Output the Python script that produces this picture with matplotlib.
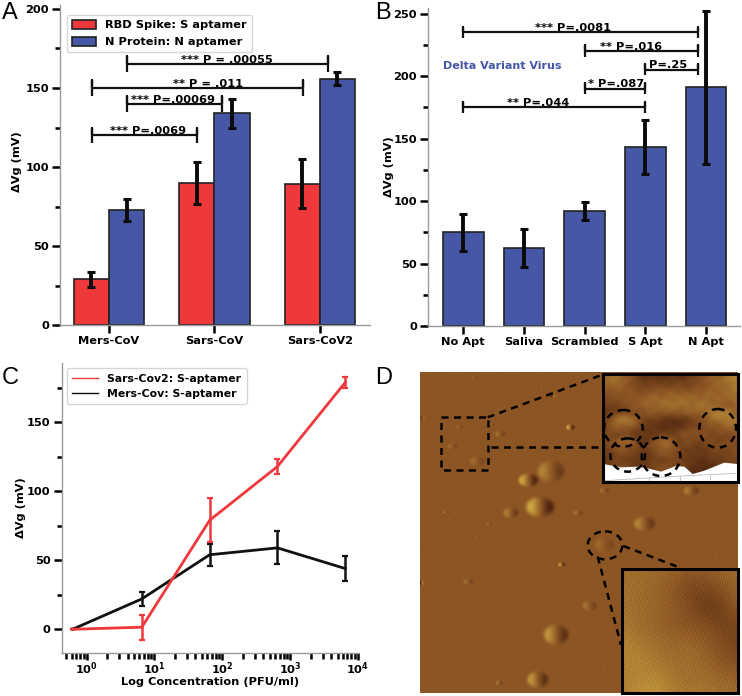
import matplotlib
matplotlib.use("Agg")
import matplotlib.pyplot as plt
import numpy as np
from matplotlib.colors import LinearSegmentedColormap
from matplotlib.lines import Line2D
from matplotlib.patches import Ellipse, Polygon, Rectangle
from matplotlib.ticker import LogLocator, MultipleLocator, NullFormatter

FIG_W, FIG_H = 742, 696
RED = "#EE383C"
BLUE = "#4557A5"
SPINE = "#9a9a9a"

# panel A
a_groups = ["Mers-CoV", "Sars-CoV", "Sars-CoV2"]
a_spike = [29, 90, 89.5]
a_spike_err = [4.5, 13.5, 15.5]
a_nprot = [73, 134, 156]
a_nprot_err = [7, 9, 4]
a_pvals = ["*** P=.0069", "*** P=.00069", "** P = .011", "*** P = .00055"]
a_from = [-0.164, 0.174, -0.164, 0.174]
a_to = [0.836, 1.068, 1.836, 2.073]
a_level = [120, 140, 150, 165]
a_text_x = [0.37, 0.61, 0.94, 1.115]

# panel B
b_groups = ["No Apt", "Saliva", "Scrambled", "S Apt", "N Apt"]
b_values = [75, 62.5, 92, 143, 191]
b_err = [15, 15.5, 7.5, 21.5, 61]
b_pvals = ["*** P=.0081", "** P=.016", "P=.25", "* P=.087", "** P=.044"]
b_from = [0, 2, 3, 2, 0]
b_to = [3.87, 3.87, 3.87, 3, 3]
b_level = [235, 220, 205, 190, 175]
b_text_x = [1.81, 2.77, 3.38, 2.52, 1.23]

# panel C
c_conc = [0.62, 6.5, 65, 650, 6500]
c_sars = [0, 1.5, 79, 118, 179]
c_sars_err = [0, 9, 16, 5.5, 4]
c_mers = [0, 22, 54, 59, 44]
c_mers_err = [0, 5, 8, 12, 9]

# panel D, surface features
part_x = [540, 472, 507, 420, 820, 700, 598, 388, 320, 245, 265, 620, 700, 960, 555, 500,
          655, 572, 292, 385, 545, 225, 355, 318, 155, 152, 515, 310, 705, 705, 1040, 362]
part_y = [365, 392, 472, 490, 522, 585, 233, 253, 335, 290, 232, 490, 423, 423, 855, 990,
          768, 645, 696, 1000, 140, 488, 523, 565, 205, 700, 110, 85, 945, 655, 610, 225]
part_rx = [38, 28, 40, 22, 30, 28, 12, 15, 22, 14, 10, 14, 14, 22, 35, 30,
           20, 10, 14, 10, 8, 10, 8, 6, 6, 5, 6, 8, 6, 8, 5, 8]
part_ry = [32, 20, 30, 16, 22, 22, 9, 10, 14, 9, 8, 9, 10, 15, 30, 25,
           14, 7, 10, 8, 6, 4, 5, 4, 9, 10, 6, 5, 6, 6, 4, 8]
part_amp = [0.55, 0.95, 1.0, 0.5, 0.55, 0.25, 1.0, 0.35, 0.3, 0.25, 0.2, 0.35, 0.3, 0.45, 0.75, 0.75,
            0.4, 0.9, 0.3, 0.4, -0.6, 0.4, 0.3, 0.3, -0.4, -0.8, 0.2, 0.2, 0.15, 0.15, 0.2, 0.2]

top_inset = [
    [0.2, 0.4, 0.1, -0.5, -0.6, -0.6, -0.6, -0.5, -0.1, 0.1, 0.3, 0.6],
    [0.1, 0.1, 0.0, -0.3, -0.2, -0.2, -0.2, -0.2, -0.1, 0.1, 0.2, 0.4],
    [-0.2, -0.1, 0.0, 0.1, 0.2, 0.2, 0.3, 0.2, 0.2, 0.2, 0.1, 0.3],
    [-0.5, -0.4, -0.2, 0.0, 0.1, 0.2, 0.2, 0.2, 0.3, 0.1, -0.1, 0.1],
    [-0.5, -0.2, -0.1, -0.4, -0.4, -0.7, -0.8, -0.5, -0.2, -0.3, 0.0, 0.1],
    [-0.1, -0.1, -0.2, -0.4, -0.5, -0.4, -0.2, 0.0, -0.1, -0.1, -0.1, 0.0],
    [-0.3, -0.3, -0.4, -0.5, -0.6, -0.3, -0.3, -0.3, -0.4, -0.2, -0.2, -0.1],
    [-0.5, -0.2, -0.2, -0.5, -0.3, -0.1, -0.2, -0.4, -0.5, -0.4, -0.3, -0.2],
    [-0.5, -0.2, -0.2, -0.5, -0.2, -0.1, -0.2, -0.5, -0.7, -0.6, -0.5, -0.5],
    [-0.5, -0.3, -0.3, -0.5, -0.4, -0.4, -0.5, -0.8, -1.0, -0.8, -0.6, -0.6],
]
dome_x = [757, 765, 870, 1050]
dome_y = [228, 298, 300, 222]
dome_rx = [55, 42, 45, 50]
dome_ry = [34, 38, 40, 45]
dome_amp = [0.7, 0.7, 0.8, 0.7]
low_inset = [
    [0.25, 0.25, 0.25, 0.15, 0.05, 0.05, 0.15, 0.25],
    [0.3, 0.25, 0.15, 0.05, -0.2, -0.2, -0.05, 0.15],
    [0.3, 0.25, 0.15, 0.05, -0.15, -0.4, -0.3, 0.05],
    [0.35, 0.25, 0.15, 0.05, -0.05, -0.15, -0.3, -0.2],
    [0.5, 0.35, 0.25, 0.15, 0.15, 0.05, -0.15, -0.3],
    [0.5, 0.5, 0.35, 0.25, 0.25, 0.15, -0.05, -0.15],
    [0.45, 0.5, 0.5, 0.35, 0.25, 0.25, 0.15, 0.05],
    [0.45, 0.6, 0.7, 0.45, 0.35, 0.35, 0.25, 0.25],
]
white_edge_x = [697, 750, 800, 830, 870, 915, 940, 965, 1000, 1060, 1100]
white_edge_y = [342, 352, 350, 355, 365, 348, 350, 372, 362, 338, 342]

plt.rcParams["font.family"] = "DejaVu Sans"
plt.rcParams["font.weight"] = "bold"
plt.rcParams["axes.labelweight"] = "bold"
plt.rcParams["font.size"] = 8.2

fig = plt.figure(figsize=(FIG_W / 100, FIG_H / 100), dpi=100)


def px_axes(left, top, right, bottom):
    return fig.add_axes([left / FIG_W, 1 - bottom / FIG_H, (right - left) / FIG_W, (bottom - top) / FIG_H])


def style_axes(ax):
    for side in ["top", "right"]:
        ax.spines[side].set_visible(False)
    for side in ["left", "bottom"]:
        ax.spines[side].set_color(SPINE)
        ax.spines[side].set_linewidth(1)
    ax.tick_params(axis="both", which="major", length=6, width=1.8, pad=2)
    ax.tick_params(axis="both", which="minor", length=3.5, width=1.8)


def bracket(ax, x0, x1, y, cap, label, text_x):
    ax.plot([x0, x0, x0, x1, x1, x1], [y - cap, y + cap, y, y, y + cap, y - cap],
            color="#111111", lw=1.6, solid_capstyle="butt", zorder=5)
    ax.text(text_x, y - cap * 0.1, label, ha="center", va="bottom", fontsize=8.2, zorder=6)


def panel_letter(x, y, letter):
    fig.text(x / FIG_W, 1 - y / FIG_H, letter, family="Liberation Sans", fontweight="normal",
             fontsize=17, ha="left", va="center")


def upsample(grid, xs, ys):
    # bilinear resize of a coarse grid, then a short box blur to hide the cells
    grid = np.array(grid)
    u = np.linspace(0, grid.shape[1] - 1, len(xs))
    v = np.linspace(0, grid.shape[0] - 1, len(ys))
    out = np.array([np.interp(u, np.arange(grid.shape[1]), row) for row in grid])
    out = np.array([np.interp(v, np.arange(grid.shape[0]), col) for col in out.T]).T
    pad = 8
    box = np.ones(2 * pad + 1) / (2 * pad + 1)
    out = np.pad(out, pad, mode="edge")
    out = np.apply_along_axis(lambda r: np.convolve(r, box, mode="same"), 1, out)
    out = np.apply_along_axis(lambda c: np.convolve(c, box, mode="same"), 0, out)
    return out[pad:-pad, pad:-pad]


def grain(xg, yg):
    return (np.sin(0.8 * xg + 0.5 * yg + 2 * np.sin(0.13 * yg))
            + np.sin(0.5 * xg - 0.8 * yg + 2 * np.sin(0.11 * xg))
            + np.sin(0.9 * xg - 0.1 * yg + 2 * np.sin(0.17 * yg + 0.07 * xg))) / 3


err_style = dict(ecolor="#0a0a0a", elinewidth=2.8, capsize=2.8, capthick=2.2)

# --- A ---
ax = px_axes(60, 5, 370, 325.3)
width = 1 / 3
pos = np.arange(len(a_groups))
ax.bar(pos - width / 2, a_spike, width, yerr=a_spike_err, color=RED, edgecolor="#222222", lw=1.2,
       error_kw=err_style, label="RBD Spike: S aptamer")
ax.bar(pos + width / 2, a_nprot, width, yerr=a_nprot_err, color=BLUE, edgecolor="#222222", lw=1.2,
       error_kw=err_style, label="N Protein: N aptamer")
ax.set_xlim(-0.465, 2.475)
ax.set_ylim(0, 202.5)
ax.set_xticks(pos, a_groups)
ax.yaxis.set_major_locator(MultipleLocator(50))
ax.yaxis.set_minor_locator(MultipleLocator(25))
ax.set_ylabel("ΔVg (mV)")
ax.yaxis.set_label_coords(-0.122, 0.51)
style_axes(ax)
ax.legend(loc="upper left", bbox_to_anchor=(0.022, 0.97), borderaxespad=0, fontsize=8.2,
          handlelength=2.1, handleheight=0.9, labelspacing=0.55, borderpad=0.45)
for x0, x1, lev, lab, tx in zip(a_from, a_to, a_level, a_pvals, a_text_x):
    bracket(ax, x0, x1, lev, 5, lab, tx)

# --- B ---
ax = px_axes(428, 8, 740, 326)
pos = np.arange(len(b_groups))
ax.bar(pos, b_values, 0.67, yerr=b_err, color=BLUE, edgecolor="#222222", lw=1.2, error_kw=err_style)
ax.set_xlim(-0.58, 4.56)
ax.set_ylim(0, 254.5)
ax.set_xticks(pos, b_groups)
ax.yaxis.set_major_locator(MultipleLocator(50))
ax.yaxis.set_minor_locator(MultipleLocator(25))
ax.set_ylabel("ΔVg (mV)")
ax.yaxis.set_label_coords(-0.109, 0.5)
style_axes(ax)
for x0, x1, lev, lab, tx in zip(b_from, b_to, b_level, b_pvals, b_text_x):
    bracket(ax, x0, x1, lev, 4.5, lab, tx)
ax.text(-0.33, 208, "Delta Variant Virus", color=BLUE, va="center", fontsize=8)

# --- C ---
ax = px_axes(61.7, 363, 358, 653)
ax.errorbar(c_conc, c_mers, yerr=c_mers_err, color="#111111", lw=2, ecolor="#111111",
            elinewidth=1.8, capsize=2, capthick=1.6)
ax.errorbar(c_conc, c_sars, yerr=c_sars_err, color=RED, lw=2, ecolor=RED,
            elinewidth=1.8, capsize=2, capthick=1.6)
ax.set_xscale("log")
ax.set_xlim(10 ** -0.368, 1e4)
ax.set_ylim(-17.2, 193)
ax.set_xticks([1, 10, 100, 1000, 10000],
              [r"$\mathbf{10^{0}}$", r"$\mathbf{10^{1}}$", r"$\mathbf{10^{2}}$", r"$\mathbf{10^{3}}$", r"$\mathbf{10^{4}}$"])
ax.xaxis.set_minor_locator(LogLocator(base=10, subs=range(2, 10), numticks=12))
ax.xaxis.set_minor_formatter(NullFormatter())
ax.yaxis.set_major_locator(MultipleLocator(50))
ax.yaxis.set_minor_locator(MultipleLocator(25))
ax.set_ylabel("ΔVg (mV)")
ax.yaxis.set_label_coords(-0.12, 0.5)
ax.set_xlabel("Log Concentration (PFU/ml)")
ax.xaxis.set_label_coords(0.5, -0.082)
style_axes(ax)
ax.tick_params(axis="x", which="major", length=5, pad=0.5)
ax.tick_params(axis="x", which="minor", length=4)
ax.legend([Line2D([], [], color=RED, lw=1), Line2D([], [], color="#111111", lw=1)],
          ["Sars-Cov2: S-aptamer", "Mers-Cov: S-aptamer"],
          loc="upper left", bbox_to_anchor=(0.018, 0.982), borderaxespad=0, fontsize=7.8,
          handlelength=2.4, labelspacing=0.45, borderpad=0.5)

# --- D ---
afm = LinearSegmentedColormap.from_list(
    "afm", [(0.0, (0.22, 0.08, 0.03)), (0.5, (0.55, 0.335, 0.14)), (1.0, (0.84, 0.70, 0.28))])
ax = px_axes(420.3, 371.7, 737.7, 693.3)
xx, yy = np.meshgrid(np.arange(148, 1100, 1.5), np.arange(65, 1030, 1.5))
scan = 0.03 * grain(xx, yy)
for cx, cy, rx, ry, amp in zip(part_x, part_y, part_rx, part_ry, part_amp):
    u = (xx - cx) / rx
    v = (yy - cy) / ry
    bump = np.exp(-((u ** 2 + v ** 2) ** 3))
    scan += amp * bump * (0.1 - 1.3 * u)
ax.imshow(scan, extent=(148, 1100, 1030, 65), cmap=afm, vmin=-1, vmax=1, aspect="auto", interpolation="bilinear")

xs = np.arange(697, 1100, 2.0)
ys = np.arange(73, 395, 2.0)
xg, yg = np.meshgrid(xs, ys)
height = upsample(top_inset, xs, ys)
for cx, cy, rx, ry, amp in zip(dome_x, dome_y, dome_rx, dome_ry, dome_amp):
    u = (xg - cx) / rx
    v = (yg - cy) / ry
    height += amp * np.exp(-((u ** 2 + v ** 2) ** 2)) * (0.35 - 0.7 * v)
height += 0.05 * np.sin(0.11 * xg + np.sin(0.07 * yg)) * np.sin(0.13 * yg + np.sin(0.05 * xg))
ax.imshow(height, extent=(697, 1100, 395, 73), cmap=afm, vmin=-1, vmax=1, aspect="auto",
          interpolation="bilinear")
ax.add_patch(Polygon(list(zip(white_edge_x, white_edge_y)) + [(1100, 395), (697, 395)],
                     facecolor="white", edgecolor="none", zorder=2))
ax.plot([700, 930, 1095], [392, 378, 370], color="#bbbbbb", lw=0.6, zorder=3)
for gx_line, gtop in zip([835, 928, 1018], [383, 378, 374]):
    ax.plot([gx_line, gx_line], [gtop, gtop + 12], color="#bbbbbb", lw=0.6, zorder=3)

xs = np.arange(753, 1100, 3.0)
ys = np.arange(658, 1030, 3.0)
xg, yg = np.meshgrid(xs, ys)
ax.imshow(upsample(low_inset, xs, ys) + 0.24 * grain(xg, yg), extent=(753, 1100, 1030, 658), cmap=afm,
          vmin=-1, vmax=1, aspect="auto", interpolation="bilinear", zorder=1)

dash = dict(color="black", lw=1.8, ls=(0, (2.8, 2.2)), zorder=4)
shape = dict(fill=False, ec="black", lw=1.8, ls=(0, (2.8, 2.2)), zorder=4)
ax.add_patch(Rectangle((210, 202), 140, 158, **shape))
ax.plot([350, 697], [202, 73], **dash)
ax.plot([360, 697], [292, 292], **dash)
ax.plot([757, 932], [588, 655], **dash)
ax.plot([680, 750], [620, 885], **dash)
for cx, cy, w, h in zip([757, 770, 870, 1040], [235, 315, 320, 235], [116, 104, 116, 110], [110, 100, 116, 116]):
    ax.add_patch(Ellipse((cx, cy), w, h, **shape))
ax.add_patch(Ellipse((702, 586), 104, 84, **shape))
ax.add_patch(Rectangle((697, 73), 403, 322, fill=False, ec="black", lw=2.2, zorder=5, clip_on=False))
ax.add_patch(Rectangle((753, 658), 347, 372, fill=False, ec="black", lw=2.2, zorder=5, clip_on=False))
ax.set_xlim(148, 1100)
ax.set_ylim(1030, 65)
ax.set_axis_off()

panel_letter(2, 13, "A")
panel_letter(375, 13, "B")
panel_letter(2, 378, "C")
panel_letter(375, 378, "D")

fig.savefig("out.png", dpi=100)
